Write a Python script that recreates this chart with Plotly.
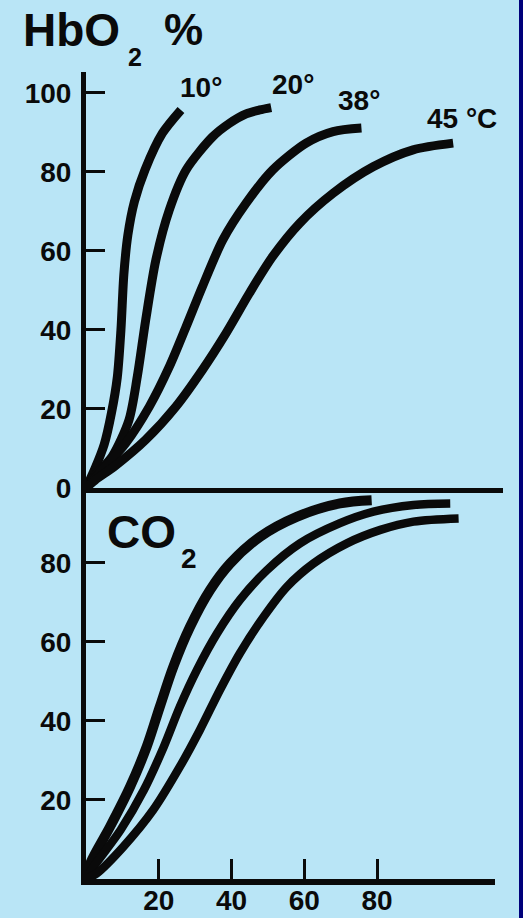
import plotly.graph_objects as go

# ---------------- data ----------------
temp_labels = ["10°", "20°", "38°", "45 °C"]

x_10 = [0, 2.5, 5.0, 7.0, 8.6, 9.6, 10.4, 11.5, 13.3, 16.2, 21.0, 26.1]
y_10 = [0, 5.0, 11.0, 19.0, 28.0, 40.0, 54.0, 64.0, 72.5, 80.5, 89.8, 95.7]

x_20 = [0, 2.5, 7.2, 11.8, 14.1, 16.4, 19.2, 22.9, 27.5, 34.8, 39.4, 44.0, 47.7, 50.9]
y_20 = [0, 3.2, 8.0, 17.2, 28.2, 42.5, 57.7, 70.4, 80.5, 88.9, 92.3, 94.7, 95.7, 96.3]

x_38 = [0, 3.6, 10.9, 17.4, 22.9, 27.5, 32.0, 37.6, 44.0, 51.3, 60.5, 67.9, 75.7]
y_38 = [0, 3.7, 11.3, 20.6, 30.7, 40.8, 51.0, 62.8, 72.1, 80.5, 87.3, 90.2, 91.1]

x_45 = [0, 2.5, 8.0, 16.4, 24.7, 32.0, 38.5, 44.9, 51.3, 58.7, 67.9, 78.9, 89.9, 100.9]
y_45 = [0, 2.0, 5.6, 12.2, 20.6, 29.9, 39.2, 49.3, 58.6, 67.0, 74.6, 81.3, 85.6, 87.3]

x_co2_a = [0, 1.2, 6.6, 12.1, 16.7, 20.3, 24.0, 28.6, 34.1, 39.6, 47.9, 57.9, 69.8, 78.5]
y_co2_a = [0, 4.0, 13.2, 23.3, 33.5, 43.6, 53.7, 63.8, 73.1, 79.8, 86.6, 91.6, 95.0, 95.8]

x_co2_b = [0, 2.1, 9.5, 15.9, 21.4, 25.8, 30.5, 36.0, 42.3, 49.7, 58.8, 69.8, 79.0, 90.0, 100.1]
y_co2_b = [0, 3.1, 12.4, 22.5, 33.5, 43.6, 52.9, 62.1, 70.6, 78.1, 84.9, 90.0, 92.9, 94.6, 95.0]

x_co2_c = [0, 2.9, 10.3, 18.5, 25.8, 31.3, 36.8, 42.3, 48.8, 55.2, 62.5, 71.7, 80.9, 90.0, 102.4]
y_co2_c = [0, 1.4, 8.2, 17.5, 28.4, 37.7, 47.8, 57.1, 66.3, 73.9, 79.8, 84.9, 88.3, 90.4, 91.2]

top_y_ticks = [0, 20, 40, 60, 80, 100]
bottom_y_ticks = [20, 40, 60, 80]
bottom_x_ticks = [20, 40, 60, 80]

# ---------------- figure ----------------
W, H = 523, 918
BG = "#B9E5F6"
INK = "#0A0A0A"
FONT = "Liberation Sans"


def px(x):
    return x / W


def py(y):
    return 1 - y / H


fig = go.Figure()

top_curves = [(x_10, y_10), (x_20, y_20), (x_38, y_38), (x_45, y_45)]
for (xs, ys), name in zip(top_curves, temp_labels):
    fig.add_trace(go.Scatter(
        x=xs, y=ys, mode="lines", name=name, xaxis="x", yaxis="y",
        line=dict(color=INK, width=9, shape="spline", smoothing=0.8),
        showlegend=False, hoverinfo="skip"))

bottom_curves = [(x_co2_a, y_co2_a, 10), (x_co2_b, y_co2_b, 8.5), (x_co2_c, y_co2_c, 8.5)]
for xs, ys, w in bottom_curves:
    fig.add_trace(go.Scatter(
        x=xs, y=ys, mode="lines", xaxis="x2", yaxis="y2",
        line=dict(color=INK, width=w, shape="spline", smoothing=0.9),
        showlegend=False, hoverinfo="skip"))

tick_font = dict(family=FONT, size=28, color=INK, weight="bold")

fig.update_layout(
    width=W, height=H,
    margin=dict(l=0, r=0, t=0, b=0, pad=0, autoexpand=False),
    paper_bgcolor=BG, plot_bgcolor=BG,
    xaxis=dict(domain=[px(86), px(503)], range=[0, 114.6], anchor="y",
               showline=True, linewidth=5, linecolor=INK, ticks="",
               showticklabels=False, showgrid=False, zeroline=False,
               automargin=False),
    yaxis=dict(domain=[py(488), py(72)], range=[0, 105.3], anchor="x",
               showline=True, linewidth=5, linecolor=INK,
               tickvals=top_y_ticks, ticks="inside", ticklen=19, tickwidth=3,
               tickcolor=INK, tickfont=tick_font, ticklabelstandoff=4,
               showgrid=False, zeroline=False, automargin=False),
    xaxis2=dict(domain=[px(86), px(495)], range=[0, 112.4], anchor="y2",
                showline=True, linewidth=6, linecolor=INK,
                tickvals=bottom_x_ticks, ticks="inside", ticklen=20, tickwidth=3,
                tickcolor=INK, tickfont=tick_font, ticklabelstandoff=-9,
                showgrid=False, zeroline=False, automargin=False),
    yaxis2=dict(domain=[py(879), py(488)], range=[0, 98.9], anchor="x2",
                showline=True, linewidth=5, linecolor=INK,
                tickvals=bottom_y_ticks, ticks="inside", ticklen=19, tickwidth=3,
                tickcolor=INK, tickfont=tick_font, ticklabelstandoff=4,
                showgrid=False, zeroline=False, automargin=False),
    shapes=[dict(type="rect", xref="paper", yref="paper",
                 x0=px(519), x1=1.0, y0=0, y1=1,
                 fillcolor="#00007A", line=dict(width=0))],
)


def label(text, x, y, size, bold=True):
    fig.add_annotation(
        text=text, xref="paper", yref="paper", x=px(x), y=py(y),
        xanchor="left", yanchor="middle", showarrow=False,
        font=dict(family=FONT, size=size, color=INK,
                  weight="bold" if bold else "normal"))


label("HbO", 21, 30, 46)
label("2", 126, 57, 25)
label("%", 162, 30, 44)
label("CO", 105, 532, 46)
label("2", 179, 558, 28)

label(temp_labels[0], 178, 88, 28)
label(temp_labels[1], 270, 84, 28)
label(temp_labels[2], 336, 101, 28)
label(temp_labels[3], 425, 118, 28)

page_css = (
    "document.documentElement.style.cssText='margin:0;padding:0;background:" + BG + ";';"
    "document.body.style.cssText='margin:0;padding:0;background:" + BG + ";';"
)

fig.write_html(
    "out.html",
    config={"displayModeBar": False},
    post_script=page_css,
)
